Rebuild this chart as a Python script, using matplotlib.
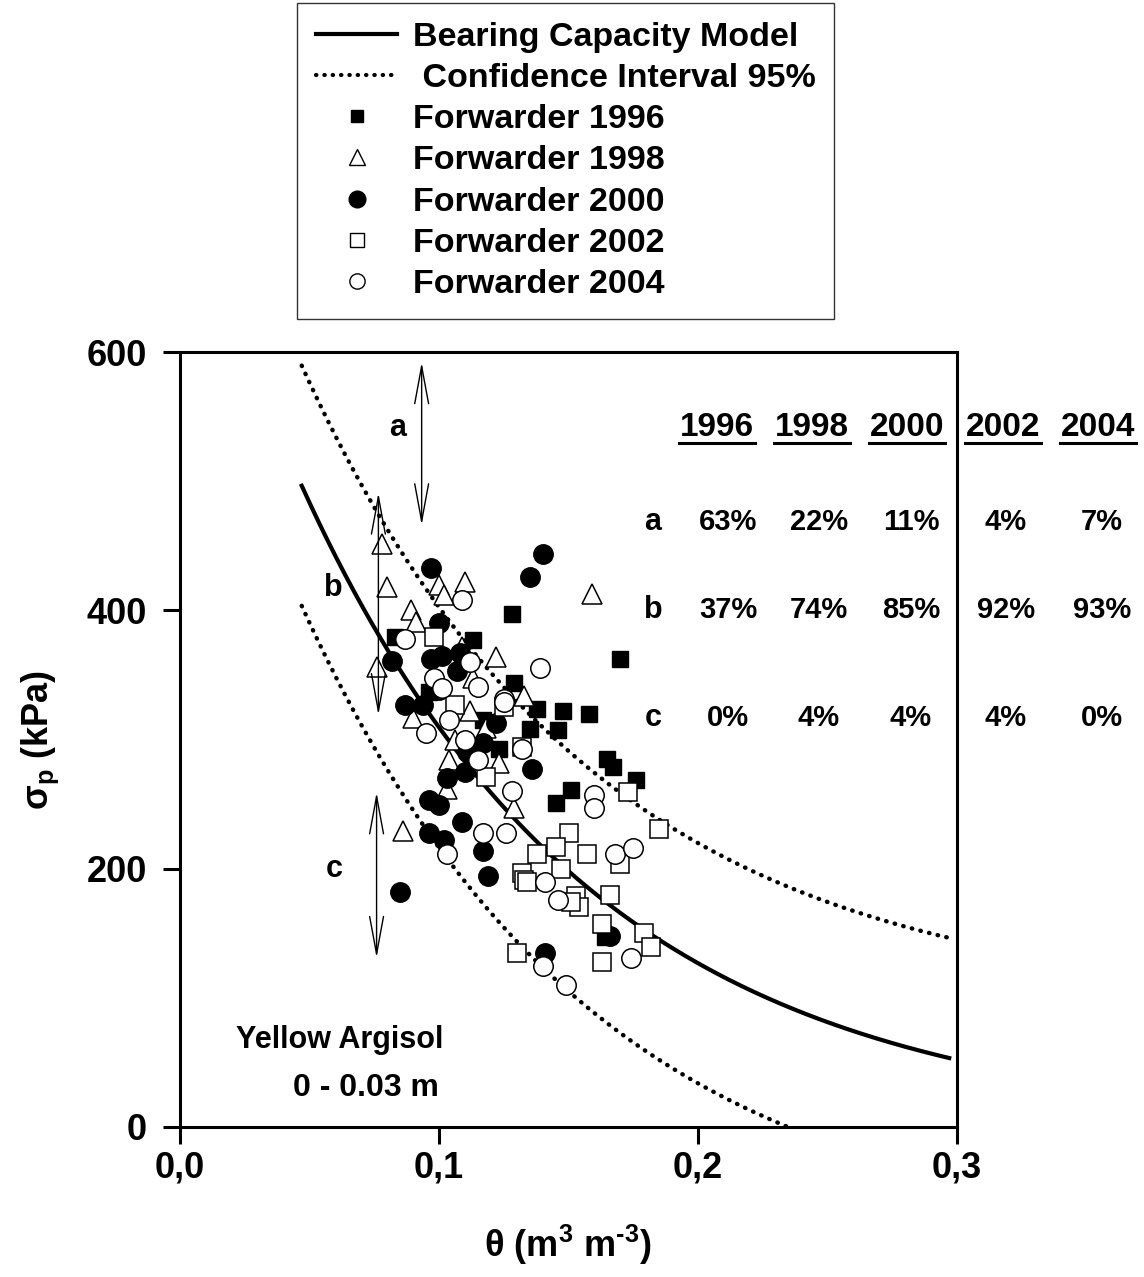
import numpy as np
import matplotlib
matplotlib.use("Agg")
import matplotlib.pyplot as plt
from matplotlib.lines import Line2D

plt.rcParams['font.family'] = ['Liberation Sans', 'DejaVu Sans']
plt.rcParams['font.weight'] = 'bold'
plt.rcParams['mathtext.fontset'] = 'custom'
plt.rcParams['mathtext.rm'] = 'Liberation Sans:bold'
plt.rcParams['mathtext.default'] = 'regular'
plt.rcParams['axes.unicode_minus'] = False

# Forwarder 1996 (filled squares)
x1996 = [0.083, 0.128, 0.170, 0.129, 0.138, 0.148, 0.158, 0.135, 0.146, 0.123,
         0.165, 0.167, 0.176, 0.151, 0.145, 0.113, 0.096, 0.117, 0.164]
y1996 = [379, 397, 362, 344, 324, 322, 320, 308, 307, 293,
         285, 279, 269, 261, 251, 377, 337, 315, 147]

# Forwarder 1998 (open triangles)
x1998 = [0.078, 0.080, 0.100, 0.102, 0.110, 0.089, 0.091, 0.122, 0.076, 0.133,
         0.090, 0.112, 0.113, 0.118, 0.123, 0.104, 0.086, 0.103, 0.129, 0.159,
         0.109, 0.106]
y1998 = [451, 418, 420, 412, 422, 400, 391, 364, 356, 334,
         317, 322, 348, 309, 282, 284, 229, 262, 247, 413,
         372, 300]

# Forwarder 2000 (filled circles)
x2000 = [0.097, 0.140, 0.135, 0.100, 0.082, 0.097, 0.101, 0.108, 0.107, 0.087,
         0.094, 0.100, 0.122, 0.117, 0.111, 0.136, 0.103, 0.110, 0.096, 0.100,
         0.109, 0.096, 0.102, 0.117, 0.119, 0.085, 0.141, 0.166]
y2000 = [433, 444, 426, 390, 361, 362, 365, 367, 353, 327,
         327, 338, 313, 297, 290, 277, 270, 275, 253, 249,
         236, 228, 222, 214, 194, 182, 135, 148]

# Forwarder 2002 (open squares)
x2002 = [0.098, 0.106, 0.125, 0.132, 0.118, 0.138, 0.132, 0.133, 0.173, 0.150,
         0.145, 0.157, 0.185, 0.170, 0.147, 0.134, 0.153, 0.154, 0.151, 0.166,
         0.163, 0.179, 0.182, 0.163, 0.130]
y2002 = [379, 327, 325, 294, 271, 211, 197, 191, 259, 228,
         217, 211, 231, 204, 200, 190, 179, 170, 174, 180,
         157, 150, 139, 128, 135]

# Forwarder 2004 (open circles)
x2004 = [0.109, 0.087, 0.112, 0.098, 0.101, 0.115, 0.125, 0.104, 0.095, 0.110,
         0.115, 0.139, 0.132, 0.125, 0.128, 0.117, 0.126, 0.103, 0.160, 0.160,
         0.168, 0.175, 0.141, 0.146, 0.174, 0.140, 0.149]
y2004 = [408, 378, 360, 348, 340, 341, 331, 315, 305, 300,
         284, 355, 293, 329, 260, 228, 228, 211, 257, 247,
         211, 216, 190, 176, 131, 125, 110]

# bearing capacity model sigma_p = a * exp(-b * theta), +- confidence half width
model_a = 755.0
model_b = 8.92
ci_half = 93.0
theta_min, theta_max = 0.047, 0.297

years = ['1996', '1998', '2000', '2002', '2004']
row_names = ['a', 'b', 'c']
pct_a = ['63%', '22%', '11%', '4%', '7%']
pct_b = ['37%', '74%', '85%', '92%', '93%']
pct_c = ['0%', '4%', '4%', '4%', '0%']

xticks = [0.0, 0.1, 0.2, 0.3]
xtick_labels = ['0,0', '0,1', '0,2', '0,3']
yticks = [0, 200, 400, 600]

W, H = 1144, 1277
fig = plt.figure(figsize=(W / 100, H / 100), dpi=100)
ax = fig.add_axes([180 / W, 1 - 1127 / H, 777 / W, 775 / H])


def fx(px):
    return px / W


def fy(py):
    return 1 - py / H


theta = np.linspace(theta_min, theta_max, 300)
sigma = model_a * np.exp(-model_b * theta)
upper = sigma + ci_half
lower = sigma - ci_half
ok = lower >= 0

dots = (0, (0.1, 1.9))
ax.plot(theta, sigma, color='black', lw=3.0, zorder=2)
ax.plot(theta, upper, color='black', lw=3.2, linestyle=dots,
        dash_capstyle='round', zorder=2)
ax.plot(theta[ok], lower[ok], color='black', lw=3.2, linestyle=dots,
        dash_capstyle='round', zorder=2)

ax.plot(x1996, y1996, 's', ms=12, mfc='black', mec='black', mew=1.0, ls='none', zorder=3)
ax.plot(x1998, y1998, '^', ms=15, mfc='white', mec='black', mew=1.1, ls='none', zorder=4)
ax.plot(x2000, y2000, 'o', ms=14, mfc='black', mec='black', mew=1.0, ls='none', zorder=5)
ax.plot(x2002, y2002, 's', ms=12.5, mfc='white', mec='black', mew=1.1, ls='none', zorder=6)
ax.plot(x2004, y2004, 'o', ms=14, mfc='white', mec='black', mew=1.1, ls='none', zorder=7)

# double arrows a, b, c
arrow_x = [0.0933, 0.0766, 0.0759]
arrow_top = [592, 491, 259]
arrow_bot = [466, 319, 131]
for xa, yt, yb in zip(arrow_x, arrow_top, arrow_bot):
    ax.annotate('', xy=(xa, yt), xytext=(xa, yb),
                arrowprops=dict(arrowstyle='<->,head_length=2.7,head_width=0.5',
                                lw=1.0, color='black', shrinkA=0, shrinkB=0,
                                mutation_scale=10), zorder=8)

ax.text(0.0842, 541, 'a', fontsize=22, ha='center', va='center')
ax.text(0.0591, 417, 'b', fontsize=22, ha='center', va='center')
ax.text(0.0595, 200, 'c', fontsize=22, ha='center', va='center')

ax.set_xlim(0, 0.3)
ax.set_ylim(0, 600)
ax.set_xticks(xticks)
ax.set_xticklabels(xtick_labels)
ax.set_yticks(yticks)
ax.tick_params(axis='both', direction='out', length=12, width=2.2, labelsize=26)
ax.tick_params(axis='x', pad=5)
ax.tick_params(axis='y', pad=12)
for s in ['left', 'bottom', 'right', 'top']:
    ax.spines[s].set_linewidth(2.2)

# axis titles
fig.text(fx(40), fy(740), 'σ$_{p}$ (kPa)', rotation=90, fontsize=26,
         ha='center', va='center')
fig.text(fx(568), fy(1245), r'θ (m$^{3}$ m$^{\text{-}3}$)', fontsize=26,
         ha='center', va='center')

# soil annotation
fig.text(fx(340), fy(1040), 'Yellow Argisol', fontsize=22, ha='center', va='center')
fig.text(fx(366), fy(1088), '0 - 0.03 m', fontsize=23, ha='center', va='center')

# percentage table
head_cx = [717, 812, 907, 1003, 1098]
val_cx = [728, 819, 911, 1006, 1102]
row_py = [522, 610, 718]
for cx, yr in zip(head_cx, years):
    fig.text(fx(cx), fy(427), yr, fontsize=24, ha='center', va='center')
    fig.add_artist(Line2D([fx(cx - 38), fx(cx + 38)], [fy(443), fy(443)],
                          color='black', lw=2.2))
for py, name, vals in zip(row_py, row_names, [pct_a, pct_b, pct_c]):
    fig.text(fx(653), fy(py), name, fontsize=22, ha='center', va='center')
    for cx, v in zip(val_cx, vals):
        fig.text(fx(cx), fy(py), v, fontsize=21, ha='center', va='center')

# legend
handles = [
    Line2D([], [], color='black', lw=3.0),
    Line2D([], [], color='black', lw=3.0, linestyle=dots, dash_capstyle='round'),
    Line2D([], [], marker='s', ms=9, mfc='black', mec='black', ls='none'),
    Line2D([], [], marker='^', ms=12, mfc='white', mec='black', mew=1.0, ls='none'),
    Line2D([], [], marker='o', ms=12, mfc='black', mec='black', ls='none'),
    Line2D([], [], marker='s', ms=10, mfc='white', mec='black', mew=1.0, ls='none'),
    Line2D([], [], marker='o', ms=11, mfc='white', mec='black', mew=1.0, ls='none'),
]
labels = ['Bearing Capacity Model', ' Confidence Interval 95%', 'Forwarder 1996',
          'Forwarder 1998', 'Forwarder 2000', 'Forwarder 2002', 'Forwarder 2004']
leg = fig.legend(handles, labels, loc='upper left', bbox_to_anchor=(fx(297), fy(3)),
                 fontsize=24.5, frameon=True, fancybox=False, edgecolor='black',
                 handlelength=2.4, handletextpad=0.45, labelspacing=0.3,
                 borderpad=0.55, borderaxespad=0)
leg.get_frame().set_linewidth(1.0)

fig.savefig('out.png', dpi=100)
